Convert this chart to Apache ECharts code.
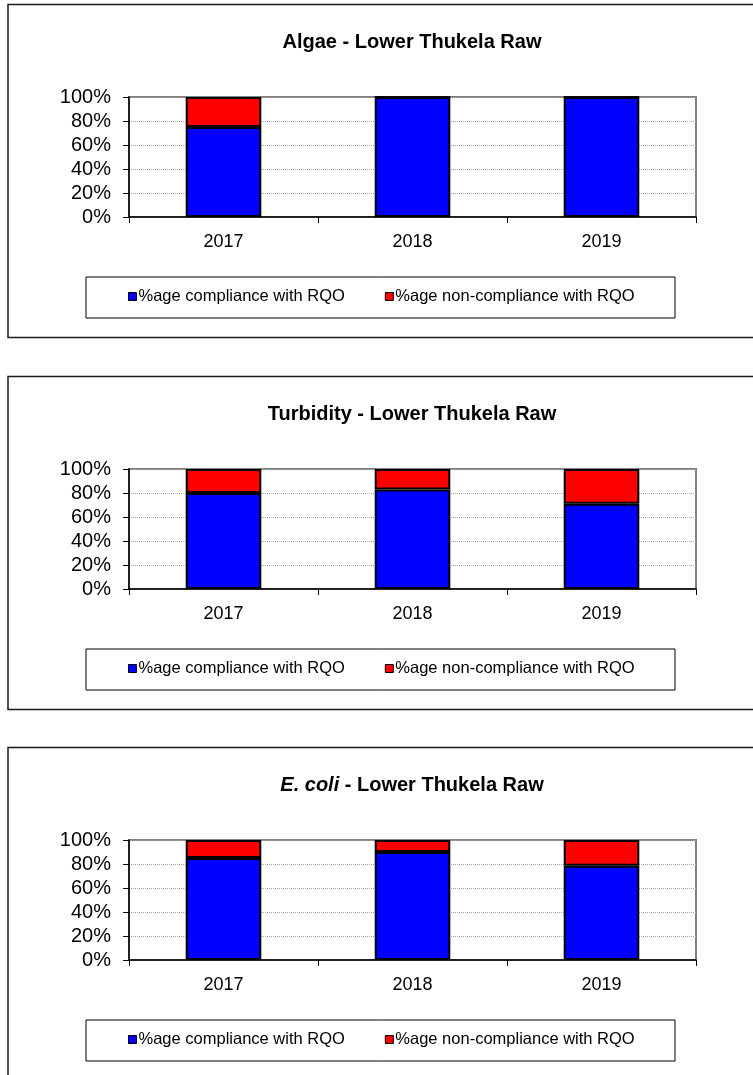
<!DOCTYPE html>
<html>
<head>
<meta charset="utf-8">
<script src="https://cdn.jsdelivr.net/npm/echarts@6/dist/echarts.min.js"></script>
<style>
  html, body { margin: 0; padding: 0; background: #fff; }
  body { width: 753px; height: 1075px; position: relative; overflow: hidden; }
  .panel { position: absolute; left: 0; width: 753px; height: 372px; }
</style>
</head>
<body>
<div id="c0" class="panel" style="top:0px"></div>
<div id="c1" class="panel" style="top:372px"></div>
<div id="c2" class="panel" style="top:743px;height:332px"></div>
<script>
// ---- data ----
const categories = ['2017', '2018', '2019'];
const seriesNames = ['%age compliance with RQO', '%age non-compliance with RQO'];
const titles = ['Algae - Lower Thukela Raw', 'Turbidity - Lower Thukela Raw', '{it|E. coli} - Lower Thukela Raw'];
const algaeCompliance = [75, 100, 100];
const algaeNonCompliance = [25, 0, 0];
const turbidityCompliance = [80, 83, 71];
const turbidityNonCompliance = [20, 17, 29];
const ecoliCompliance = [85, 90, 78.6];
const ecoliNonCompliance = [15, 10, 21.4];
const yTicks = [0, 20, 40, 60, 80, 100];

const FONT = 'Arial, "Liberation Sans", sans-serif';

function buildOption(title, comp, nonComp) {
  return {
    animation: false,
    backgroundColor: '#fff',
    title: {
      text: title,
      left: 412,
      top: 32,
      padding: 0,
      textAlign: 'center',
      textStyle: {
        fontFamily: FONT, fontSize: 20, fontWeight: 'bold', color: '#000',
        rich: { it: { fontFamily: FONT, fontSize: 20, fontWeight: 'bold', fontStyle: 'italic', color: '#000' } }
      }
    },
    graphic: [
      { type: 'rect', silent: true, z: -1,
        shape: { x: 8, y: 4.5, width: 800, height: 333 },
        style: { fill: 'none', stroke: '#1a1a1a', lineWidth: 1.5 } },
      { type: 'rect', silent: true, z: -1,
        shape: { x: 86, y: 277, width: 589, height: 41 },
        style: { fill: 'none', stroke: '#000', lineWidth: 1 } }
    ],
    legend: {
      data: seriesNames,
      left: 128,
      top: 288,
      padding: 0,
      itemGap: 40,
      itemWidth: 8,
      itemHeight: 8,
      icon: 'rect',
      itemStyle: { borderColor: '#000', borderWidth: 1 },
      textStyle: { fontFamily: FONT, fontSize: 16.5, color: '#000', padding: [0, 0, 0, -3] }
    },
    grid: {
      left: 129, right: 57, top: 97, height: 120,
      show: true, borderColor: '#808080', borderWidth: 2, backgroundColor: '#fff'
    },
    xAxis: {
      type: 'category',
      data: categories,
      axisLine: { lineStyle: { color: '#000', width: 1.5 } },
      axisTick: { show: true, length: 6, interval: 0, lineStyle: { color: '#000', width: 1 } },
      axisLabel: { margin: 16, fontFamily: FONT, fontSize: 18, color: '#000' }
    },
    yAxis: {
      type: 'value',
      min: 0, max: 100, interval: 20,
      axisLine: { show: true, lineStyle: { color: '#000', width: 1.5 } },
      axisTick: { show: true, length: 6, lineStyle: { color: '#000', width: 1 } },
      axisLabel: { margin: 18, fontFamily: FONT, fontSize: 20, color: '#000',
        formatter: v => (yTicks.indexOf(v) >= 0 ? v + '%' : '') },
      splitLine: { show: true, lineStyle: { color: '#a6a6a6', type: 'dotted', width: 1 } }
    },
    series: [
      { name: seriesNames[0], type: 'bar', stack: 'total', data: comp,
        barCategoryGap: '60%',
        itemStyle: { color: '#0000ff', borderColor: '#000', borderWidth: 2 } },
      { name: seriesNames[1], type: 'bar', stack: 'total', data: nonComp,
        barCategoryGap: '60%',
        itemStyle: { color: '#ff0000', borderColor: '#000', borderWidth: 2 } }
    ]
  };
}

const datasets = [
  [algaeCompliance, algaeNonCompliance],
  [turbidityCompliance, turbidityNonCompliance],
  [ecoliCompliance, ecoliNonCompliance]
];
datasets.forEach((d, i) => {
  const chart = echarts.init(document.getElementById('c' + i), null, { renderer: 'canvas' });
  chart.setOption(buildOption(titles[i], d[0], d[1]));
});
</script>
</body>
</html>
